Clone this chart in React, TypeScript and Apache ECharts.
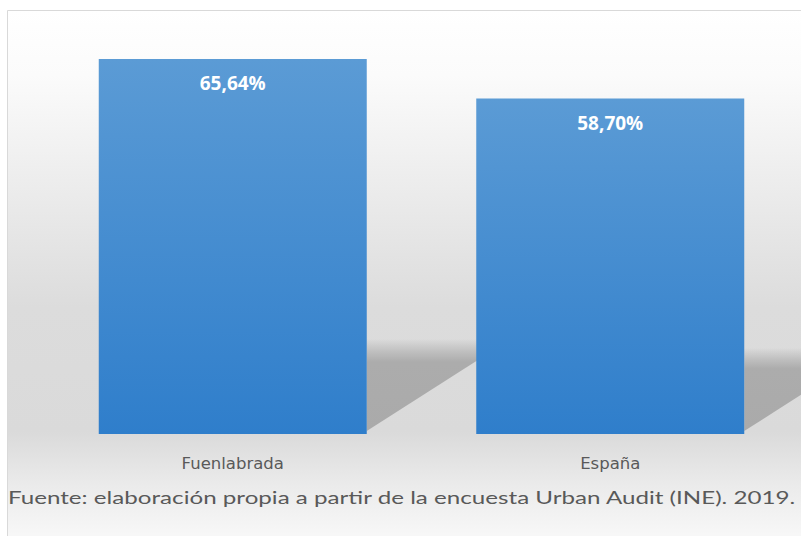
import React, { useEffect, useRef } from "react";
import * as echarts from "echarts";

const categories = ["Fuenlabrada", "España"];
const values = [65.64, 58.7];
const valueLabels = ["65,64%", "58,70%"];
const sourceText = "Fuente: elaboración propia a partir de la encuesta Urban Audit (INE). 2019.";

const BAR_WIDTH = 268;
const SRC_FONT = "18px Lato";
const SRC_WIDTH = 789;

function measure(text: string, font: string): number {
  const c = document.createElement("canvas");
  const ctx = c.getContext("2d");
  if (!ctx) return SRC_WIDTH;
  ctx.font = font;
  return ctx.measureText(text).width;
}

export default function App() {
  const ref = useRef<HTMLDivElement>(null);
  useEffect(() => {
    if (!ref.current) return;
    const chart = echarts.init(ref.current, undefined, { renderer: "svg" });
    const w = measure(sourceText, SRC_FONT);
    const sx = SRC_WIDTH / w;
    const option: any = {
      animation: false,
      backgroundColor: "#ffffff",
      graphic: [
        {
          type: "rect",
          z: -10,
          silent: true,
          shape: { x: 7.5, y: 10.5, width: 800, height: 540 },
          style: {
            stroke: "#d9d9d9",
            lineWidth: 1,
            fill: new echarts.graphic.LinearGradient(0, 0, 0, 1, [
              { offset: 0, color: "#ffffff" },
              { offset: 0.12, color: "#fbfbfb" },
              { offset: 0.55, color: "#dcdcdc" },
              { offset: 0.78, color: "#dadada" },
              { offset: 0.88, color: "#ebebeb" },
              { offset: 1, color: "#fbfbfb" },
            ]),
          },
        },
        {
          type: "text",
          z: 10,
          x: 8,
          y: 497,
          scaleX: sx,
          style: {
            text: sourceText,
            font: SRC_FONT,
            fill: "#595959",
            textVerticalAlign: "middle",
            verticalAlign: "middle",
          },
        },
      ],
      grid: { left: 44, right: 2, top: 34, bottom: 102 },
      xAxis: {
        type: "category",
        data: categories,
        axisLine: { show: false },
        axisTick: { show: false },
        axisLabel: {
          margin: 21,
          fontFamily: "DejaVu Sans",
          fontSize: 16.5,
          color: "#595959",
        },
      },
      yAxis: {
        type: "value",
        min: 0,
        max: 70,
        show: false,
        splitLine: { show: false },
      },
      series: [
        {
          type: "custom",
          z: 1,
          silent: true,
          data: values.map((v, i) => [i, v]),
          renderItem: (params: any, api: any) => {
            const idx = api.value(0);
            const val = api.value(1);
            const base = api.coord([idx, 0]);
            const top = api.coord([idx, val]);
            const h = base[1] - top[1];
            const s = h * 0.227;
            const R = base[0] + BAR_WIDTH / 2;
            const y0 = base[1];
            const len = (s - 4) / 0.63;
            return {
              type: "polygon",
              shape: {
                points: [
                  [R, y0 - s - 10],
                  [R + len + 12, y0 - s - 10],
                  [R + len, y0 - s],
                  [R, y0 - 3],
                ],
              },
              style: {
                fill: new echarts.graphic.LinearGradient(0, 0, 0, 1, [
                  { offset: 0, color: "rgba(172,172,172,0)" },
                  { offset: 0.14, color: "rgba(172,172,172,0.6)" },
                  { offset: 0.25, color: "rgba(172,172,172,1)" },
                  { offset: 1, color: "rgba(170,170,170,1)" },
                ]),
              },
            };
          },
        },
        {
          type: "bar",
          z: 2,
          data: values,
          barWidth: BAR_WIDTH,
          itemStyle: {
            color: new echarts.graphic.LinearGradient(0, 0, 0, 1, [
              { offset: 0, color: "#5b9bd5" },
              { offset: 1, color: "#2f7ecb" },
            ]),
          },
          label: {
            show: true,
            position: "insideTop",
            distance: 15,
            formatter: (p: any) => valueLabels[p.dataIndex],
            fontFamily: "Open Sans",
            fontWeight: "bold",
            fontSize: 19,
            color: "#ffffff",
          },
        },
      ],
    };
    chart.setOption(option);
    return () => chart.dispose();
  }, []);
  return <div ref={ref} style={{ width: 801, height: 536, position: "absolute", left: 0, top: 0 }} />;
}
